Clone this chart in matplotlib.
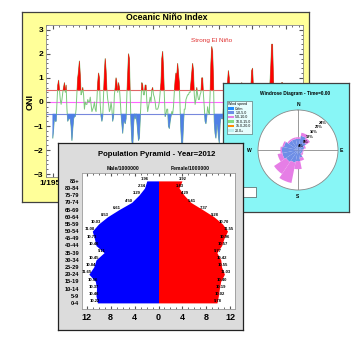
import matplotlib.pyplot as plt
import numpy as np
from matplotlib.patches import Patch, Rectangle
from matplotlib.ticker import MultipleLocator

plt.rcParams['font.family'] = ['Liberation Sans', 'DejaVu Sans']

# ---------------- data ----------------
# Oceanic Nino Index, one value per season (DJF, MAM, JJA, SON), 1950-2020
oni_start_year = 1950
oni_values = [
    -1.5, -1.1, -0.6, -0.8,   # 1950
    -0.8, 0.0, 0.7, 0.9,
    0.5, 0.1, -0.1, 0.1,
    0.4, 0.6, 0.8, 0.4,
    0.7, -0.3, -0.8, -0.7,
    -0.7, -0.7, -1.0, -1.6,   # 1955
    -1.1, -0.7, -0.6, -0.6,
    -0.3, 0.4, 1.0, 1.3,
    1.7, 1.1, 0.3, 0.4,
    0.6, 0.3, -0.3, 0.0,
    -0.1, -0.1, 0.1, 0.0,     # 1960
    0.0, 0.2, -0.1, -0.4,
    -0.3, -0.2, 0.0, -0.3,
    -0.4, 0.1, 0.8, 1.2,
    1.0, -0.1, -0.6, -0.8,
    -0.6, 0.3, 1.2, 1.8,      # 1965
    1.3, 0.5, 0.1, -0.1,
    -0.4, -0.3, 0.0, -0.3,
    -0.8, -0.6, 0.3, 0.6,
    1.0, 0.8, 0.4, 0.8,
    0.6, 0.1, -0.5, -0.9,     # 1970
    -1.3, -0.8, -0.8, -0.9,
    -0.7, 0.3, 1.1, 2.0,
    1.8, 0.3, -0.9, -1.6,
    -1.9, -1.0, -0.5, -0.7,
    -0.5, -0.8, -1.2, -1.6,   # 1975
    -1.5, -0.7, 0.1, 0.8,
    0.7, 0.3, 0.3, 0.7,
    0.7, 0.0, -0.4, -0.2,
    0.0, 0.2, 0.0, 0.5,
    0.6, 0.3, 0.2, 0.0,       # 1980
    -0.3, -0.3, -0.3, -0.2,
    0.0, 0.4, 0.8, 1.8,
    2.1, 1.4, 0.3, -0.6,
    -0.5, -0.3, -0.3, -1.0,
    -1.1, -0.8, -0.6, -0.4,   # 1985
    -0.5, -0.2, 0.4, 0.9,
    1.2, 1.1, 1.6, 1.2,
    0.8, -0.3, -1.2, -1.8,
    -1.7, -0.9, -0.3, -0.3,
    0.1, 0.2, 0.3, 0.3,       # 1990
    0.4, 0.4, 0.8, 1.2,
    1.6, 1.3, 0.3, -0.1,
    0.1, 0.6, 0.3, 0.1,
    0.1, 0.3, 0.4, 1.0,
    1.0, 0.3, -0.2, -0.8,     # 1995
    -0.9, -0.6, -0.2, -0.4,
    -0.5, 0.3, 1.6, 2.3,
    2.1, 1.0, -0.8, -1.3,
    -1.5, -0.9, -1.0, -1.4,
    -1.7, -0.9, -0.6, -0.7,   # 2000
    -0.7, -0.3, 0.0, -0.2,
    0.0, 0.3, 0.8, 1.3,
    1.0, 0.0, 0.1, 0.4,
    0.4, 0.2, 0.5, 0.7,
    0.6, 0.4, 0.0, -0.4,      # 2005
    -0.9, -0.3, 0.2, 0.8,
    0.7, -0.2, -0.5, -1.3,
    -1.6, -0.9, -0.4, -0.6,
    -0.8, -0.3, 0.6, 1.3,
    1.4, 0.6, -0.9, -1.6,     # 2010
    -1.4, -0.6, -0.3, -1.0,
    -0.8, -0.3, 0.3, 0.2,
    -0.4, -0.3, -0.4, -0.3,
    -0.5, 0.0, 0.0, 0.5,
    0.5, 0.8, 1.5, 2.4,       # 2015
    2.4, 1.1, -0.4, -0.7,
    -0.3, 0.2, 0.1, -0.7,
    -0.9, -0.4, 0.1, 0.8,
    0.8, 0.6, 0.1, 0.5,
    0.5, 0.0, -0.4, -1.2,     # 2020
]

# Windrose: 16 directions, cumulative frequency (%) per speed class
wind_directions = np.arange(16) * 22.5
wind_1_5 = [7, 9, 6, 4, 3, 3, 3, 5, 7, 8, 9, 10, 10, 9, 7, 7]
wind_5_10 = [8, 11, 9, 5, 3.5, 3.5, 4, 7, 12, 21, 18, 13, 11, 10, 8, 8]
wind_classes = ['Calm', '1.0-5.0', '5.0-10.0', '10.0-15.0', '15.0-20.0', '20.0+']
wind_colors = ['#1E8CFF', '#6E8EE6', '#E67EE6', '#80DC80', '#FF8C00', '#BFEDED']

# Population pyramid 2012
age_groups = ['0-4', '5-9', '10-14', '15-19', '20-24', '25-29', '30-34', '35-39', '40-44',
              '45-49', '50-54', '55-59', '60-64', '65-69', '70-74', '75-79', '80-84', '85+']
male = [10.22, 10.46, 10.37, 10.56, 11.65, 10.84, 10.45, 9.11, 10.46,
        10.73, 11.08, 10.03, 8.53, 6.61, 4.50, 3.29, 2.34, 1.96]
female = [9.78, 10.02, 10.19, 10.40, 11.03, 10.55, 10.42, 9.77, 10.57,
          10.96, 11.55, 10.70, 9.28, 7.37, 5.41, 4.29, 3.43, 3.92]

# ---------------- layout helpers (pixels) ----------------
W, H = 359, 357
fig = plt.figure(figsize=(W / 100, H / 100), dpi=100)
fig.patch.set_facecolor('white')


def box(x0, y0, x1, y1):
    return [x0 / W, 1 - y1 / H, (x1 - x0) / W, (y1 - y0) / H]


def fx(x):
    return x / W


def fy(y):
    return 1 - y / H


def panel(rect, color, edge='#404040'):
    a = fig.add_axes(box(*rect))
    a.set_facecolor(color)
    a.set_xticks([])
    a.set_yticks([])
    for s in a.spines.values():
        s.set_color(edge)
        s.set_linewidth(0.9)
    return a


# ---------------- ONI panel ----------------
bg1 = panel((22, 12, 309, 202), '#FFFF99')
bg1.text(fx(167), fy(18), 'Oceanic Niño Index', transform=fig.transFigure,
         ha='center', va='center', fontsize=6.3, fontweight='bold')
bg1.text(fx(30), fy(102), 'ONI', transform=fig.transFigure, rotation=90,
         ha='center', va='center', fontsize=6.5, fontweight='bold')

ax1 = fig.add_axes(box(46, 25, 303, 177))
oni = np.array(oni_values)
t = oni_start_year + 1 / 24 + 0.25 * np.arange(len(oni))
ax1.plot(t, oni, color='#7CC87C', lw=0.7, zorder=2)
ax1.fill_between(t, 0.5, oni, where=oni > 0.5, interpolate=True, color='#FF0000', lw=0.3,
                 edgecolor='#FF0000', zorder=3)
ax1.fill_between(t, -0.5, oni, where=oni < -0.5, interpolate=True, color='#4F7FE6', lw=0.3,
                 edgecolor='#4F7FE6', zorder=3)
ax1.axhline(0.5, color='#E06666', lw=0.8, zorder=1)
ax1.axhline(0, color='#FF66FF', lw=0.8, zorder=1)
ax1.axhline(-0.5, color='#7788DD', lw=0.8, zorder=1)
ax1.text(1997.8, 2.55, 'Strong El Niño', color='#E03030', fontsize=4.6, ha='center', va='center')
ax1.set_xlim(1948.0, 2025.2)
ax1.set_ylim(-3.12, 3.2)
ax1.set_yticks(range(-3, 4))
ax1.yaxis.set_minor_locator(MultipleLocator(0.2))
ax1.set_xticks(range(1950, 2030, 10))
ax1.set_xticklabels(['1/%d' % y for y in range(1950, 2030, 10)])
ax1.xaxis.set_minor_locator(MultipleLocator(2))
ax1.tick_params(which='both', direction='in', top=True, right=True, labelsize=6, pad=2,
                colors='#555555', labelcolor='black')
ax1.tick_params(which='major', length=3)
ax1.tick_params(which='minor', length=1.5)
for lab in ax1.get_xticklabels() + ax1.get_yticklabels():
    lab.set_fontweight('bold')
for s in ax1.spines.values():
    s.set_color('#888888')
    s.set_linewidth(0.6)

# ---------------- Windrose panel ----------------
bg2 = panel((223, 83, 349, 212), '#88F6F6')
bg2.text(fx(295), fy(94), 'Windrose Diagram - Time=0.00', transform=fig.transFigure,
         ha='center', va='center', fontsize=3.4, fontweight='bold')
for lab, (px, py) in zip('NSWE', [(298, 104), (298, 196), (249, 150), (341, 150)]):
    bg2.text(fx(px), fy(py), lab, transform=fig.transFigure, ha='center', va='center',
             fontsize=3.6, fontweight='bold')
handles = [Patch(facecolor=c, edgecolor='none') for c in wind_colors]
leg = bg2.legend(handles, wind_classes, title='Wind speed', loc='upper left',
                 bbox_to_anchor=(fx(227), fy(101)), bbox_transform=fig.transFigure,
                 fontsize=2.6, title_fontsize=2.6, frameon=True, fancybox=False,
                 borderpad=0.3, labelspacing=0.12, handlelength=1.6, handleheight=0.7,
                 handletextpad=0.4, borderaxespad=0)
leg.get_frame().set_edgecolor('#333333')
leg.get_frame().set_linewidth(0.4)
leg._legend_box.align = 'left'
bg2.add_patch(Rectangle((fx(241), fy(197)), fx(15), 10 / H, transform=fig.transFigure,
                        facecolor='white', edgecolor='#333333', lw=0.4))

axp = fig.add_axes(box(258, 110, 338, 190), projection='polar')
axp.set_theta_zero_location('N')
axp.set_theta_direction(-1)
theta = np.deg2rad(wind_directions)
width = np.deg2rad(22.5)
inner = np.array(wind_1_5)
outer = np.array(wind_5_10)
axp.bar(theta, inner, width=width, color=wind_colors[1], lw=0, zorder=3)
axp.bar(theta, outer - inner, bottom=inner, width=width, color=wind_colors[2], lw=0, zorder=3)
axp.set_ylim(0, 25)
axp.set_yticks([])
axp.set_thetagrids([0, 90, 180, 270], labels=['', '', '', ''])
axp.xaxis.grid(True, color='#999999', lw=0.7)
axp.spines['polar'].set_color('#888888')
axp.spines['polar'].set_linewidth(0.6)
axp.set_facecolor('white')
for r in range(4, 28, 4):
    axp.text(np.deg2rad(42), r - 1, '%d%%' % r, fontsize=2.8, fontweight='bold',
             ha='center', va='center', zorder=5)

# ---------------- Population pyramid panel ----------------
bg3 = panel((58, 143, 243, 330), '#DCDCDC', edge='#222222')
bg3.text(fx(157), fy(155), 'Population Pyramid - Year=2012', transform=fig.transFigure,
         ha='center', va='center', fontsize=5.6, fontweight='bold')
bg3.text(fx(123), fy(168), 'Male/1000000', transform=fig.transFigure,
         ha='center', va='center', fontsize=3.6, fontweight='bold')
bg3.text(fx(190), fy(168), 'Female/1000000', transform=fig.transFigure,
         ha='center', va='center', fontsize=3.6, fontweight='bold')

ax3 = fig.add_axes(box(82, 173, 235, 309))
rows = np.arange(len(age_groups))
m = np.array(male)
f = np.array(female)
ax3.fill_betweenx(rows, -m, 0, color='#0000FF', lw=0)
ax3.fill_betweenx(rows, 0, f, color='#FF0000', lw=0)
for i in rows:
    ax3.text(-m[i] - 0.4, i + 0.25, '%.2f' % m[i], fontsize=3.0, fontweight='bold',
             ha='center', va='center')
    ax3.text(f[i] + 0.2, i + 0.25, '%.2f' % f[i], fontsize=3.0, fontweight='bold',
             ha='center', va='center')
ax3.set_xlim(-12.8, 12.8)
ax3.set_ylim(-0.85, 18.1)
ax3.set_yticks(rows)
ax3.set_yticklabels(age_groups, fontsize=4.1, fontweight='bold')
xt = [-12, -8, -4, 0, 4, 8, 12]
ax3.set_xticks(xt)
ax3.set_xticklabels([str(abs(v)) for v in xt], fontsize=6.5, fontweight='bold')
ax3.xaxis.set_minor_locator(MultipleLocator(1))
ax3.tick_params(axis='x', which='both', direction='in', top=True, pad=3, colors='#555555',
                labelcolor='black')
ax3.tick_params(axis='x', which='major', length=2.5)
ax3.tick_params(axis='x', which='minor', length=1.2)
ax3.tick_params(axis='y', length=0, pad=2)
for s in ax3.spines.values():
    s.set_color('#999999')
    s.set_linewidth(0.6)

fig.savefig('out.png', dpi=100)
